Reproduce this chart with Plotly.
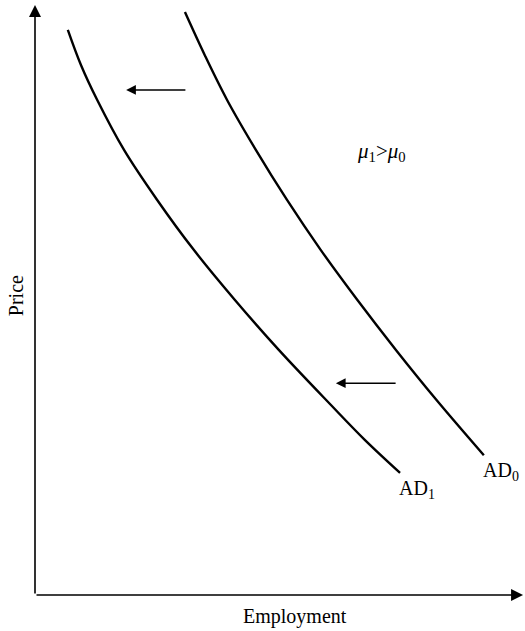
import plotly.graph_objects as go

# Aggregate demand curves (employment, price) in arbitrary units
ad0_employment = [30.6, 34.7, 39.2, 45.1, 51.4, 58.3, 65.8, 73.7, 81.9, 91.6]
ad0_price = [98.8, 91.4, 83.9, 75.4, 67.0, 58.5, 50.0, 41.5, 33.1, 23.7]
ad1_employment = [6.7, 9.4, 12.7, 18.2, 24.9, 32.4, 40.8, 49.8, 60.4, 67.3, 74.5]
ad1_price = [95.8, 89.8, 83.9, 75.4, 67.0, 58.5, 50.0, 41.5, 32.2, 26.3, 20.7]

# Shift arrows: (tail x, tip x, y)
shift_tail_x = [31.0, 73.9]
shift_tip_x = [18.6, 61.4]
shift_y = [85.6, 35.9]

curve_labels = ["AD<sub>0</sub>", "AD<sub>1</sub>"]
label_x = [95.2, 78.0]
label_y = [20.9, 17.9]

FONT = "Liberation Serif, Times New Roman, serif"

fig = go.Figure()
for xs, ys in ((ad0_employment, ad0_price), (ad1_employment, ad1_price)):
    fig.add_trace(go.Scatter(x=xs, y=ys, mode="lines",
                             line=dict(color="black", width=2.4, shape="spline", smoothing=1.0),
                             hoverinfo="skip", showlegend=False))

ann = []
# axes with arrowheads
ann.append(dict(x=99.6, y=0, ax=0, ay=0, xref="x", yref="y", axref="x", ayref="y",
                showarrow=True, arrowhead=2, arrowsize=1.5, arrowwidth=1.6,
                arrowcolor="black", text="", standoff=0))
ann.append(dict(x=0, y=100, ax=0, ay=0, xref="x", yref="y", axref="x", ayref="y",
                showarrow=True, arrowhead=2, arrowsize=1.5, arrowwidth=1.6,
                arrowcolor="black", text="", standoff=0))
# shift arrows
for tx, hx, yy in zip(shift_tail_x, shift_tip_x, shift_y):
    ann.append(dict(x=hx, y=yy, ax=tx, ay=yy, xref="x", yref="y", axref="x", ayref="y",
                    showarrow=True, arrowhead=2, arrowsize=1.3, arrowwidth=1.5,
                    arrowcolor="black", text="", standoff=0))
# curve labels
for t, lx, ly in zip(curve_labels, label_x, label_y):
    ann.append(dict(x=lx, y=ly, xref="x", yref="y", text=t, showarrow=False,
                    font=dict(family=FONT, size=20, color="black")))
# parameter text
ann.append(dict(x=70.8, y=75.1, xref="x", yref="y",
                text="<i>μ</i><sub>1</sub>&gt;<i>μ</i><sub>0</sub>", showarrow=False,
                font=dict(family=FONT, size=21, color="black")))
# axis labels
ann.append(dict(x=0.531, y=-0.037, xref="paper", yref="paper", text="Employment",
                showarrow=False, xanchor="center", yanchor="middle",
                font=dict(family=FONT, size=20, color="black")))
ann.append(dict(x=-0.039, y=0.508, xref="paper", yref="paper", text="Price",
                showarrow=False, textangle=-90, xanchor="center", yanchor="middle",
                font=dict(family=FONT, size=20, color="black")))

fig.update_layout(
    width=525, height=631,
    margin=dict(l=35, r=0, t=5, b=36),
    paper_bgcolor="white", plot_bgcolor="white",
    xaxis=dict(range=[0, 100], visible=False, fixedrange=True),
    yaxis=dict(range=[0, 100], visible=False, fixedrange=True),
    annotations=ann,
    showlegend=False,
)
fig.write_html("out.html")
